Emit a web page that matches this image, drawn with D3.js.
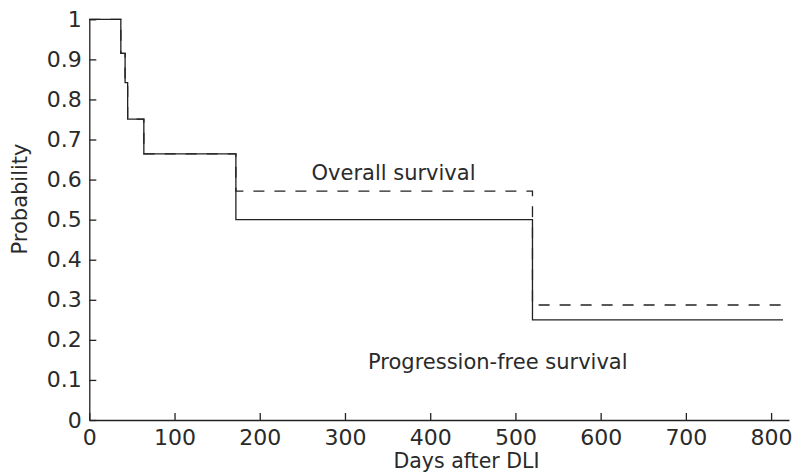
<!DOCTYPE html>
<html>
<head>
<meta charset="utf-8">
<script src="https://cdn.jsdelivr.net/npm/d3@7/dist/d3.min.js"></script>
<style>
  html, body { margin: 0; padding: 0; background: #fff; }
  svg { display: block; }
  text { font-family: "DejaVu Sans", sans-serif; fill: #2a2a2a; }
</style>
</head>
<body>
<svg id="chart" width="797" height="474"></svg>
<script>
// ---- data ----
const pfsDays = [0, 37, 42, 45, 64, 172, 520, 814];
const pfsProb = [1, 0.915, 0.842, 0.751, 0.664, 0.5, 0.25, 0.25];
const osDays  = [0, 37, 42, 45, 64, 172, 520, 814];
const osProb  = [1, 0.915, 0.842, 0.751, 0.664, 0.571, 0.287, 0.287];
const xTicks = [0, 100, 200, 300, 400, 500, 600, 700, 800];
const yTicks = [0, 0.1, 0.2, 0.3, 0.4, 0.5, 0.6, 0.7, 0.8, 0.9, 1];
const yTickLabels = ["0", "0.1", "0.2", "0.3", "0.4", "0.5", "0.6", "0.7", "0.8", "0.9", "1"];
const labels = { x: "Days after DLI", y: "Probability", os: "Overall survival", pfs: "Progression-free survival" };

const svg = d3.select("#chart");
const x = d3.scaleLinear().domain([0, 821]).range([89.3, 789]);
const y = d3.scaleLinear().domain([0, 1]).range([420, 19.3]);
const ink = "#222";
const textInk = "#2a2a2a";

// x axis
const xAxis = d3.axisBottom(x).tickValues(xTicks).tickFormat(d3.format("d")).tickSizeInner(-7).tickSizeOuter(0).tickPadding(9);
const gx = svg.append("g").attr("transform", `translate(0,${y(0)})`).call(xAxis);
gx.select(".domain").attr("stroke", ink).attr("stroke-width", 1.3);
gx.selectAll(".tick line").attr("stroke", ink).attr("stroke-width", 1.3);
gx.selectAll(".tick text").attr("font-size", 22).attr("font-family", "DejaVu Sans").attr("fill", textInk);

// y axis
const yAxis = d3.axisLeft(y).tickValues(yTicks).tickFormat((d, i) => yTickLabels[i]).tickSizeInner(-7).tickSizeOuter(0).tickPadding(7.5);
const gy = svg.append("g").attr("transform", `translate(${x(0)},0)`).call(yAxis);
gy.select(".domain").attr("stroke", ink).attr("stroke-width", 1.3);
gy.selectAll(".tick line").attr("stroke", ink).attr("stroke-width", 1.3);
gy.selectAll(".tick text").attr("font-size", 22).attr("font-family", "DejaVu Sans").attr("fill", textInk);

// curves
const line = d3.line().x(d => x(d[0])).y(d => y(d[1])).curve(d3.curveStepAfter);
svg.append("path")
  .datum(osDays.map((d, i) => [d, osProb[i]]))
  .attr("d", line).attr("fill", "none").attr("stroke", ink).attr("stroke-width", 1.3)
  .attr("stroke-dasharray", "11,10");
svg.append("path")
  .datum(pfsDays.map((d, i) => [d, pfsProb[i]]))
  .attr("d", line).attr("fill", "none").attr("stroke", ink).attr("stroke-width", 1.3);

// labels
svg.append("text").attr("x", 311.5).attr("y", 180).attr("font-size", 21).text(labels.os);
svg.append("text").attr("x", 368).attr("y", 369).attr("font-size", 21).text(labels.pfs);
svg.append("text").attr("x", 466.5).attr("y", 468).attr("text-anchor", "middle").attr("font-size", 20.5).text(labels.x);
svg.append("text").attr("transform", "translate(27,199) rotate(-90)").attr("text-anchor", "middle").attr("font-size", 21).text(labels.y);
</script>
</body>
</html>
